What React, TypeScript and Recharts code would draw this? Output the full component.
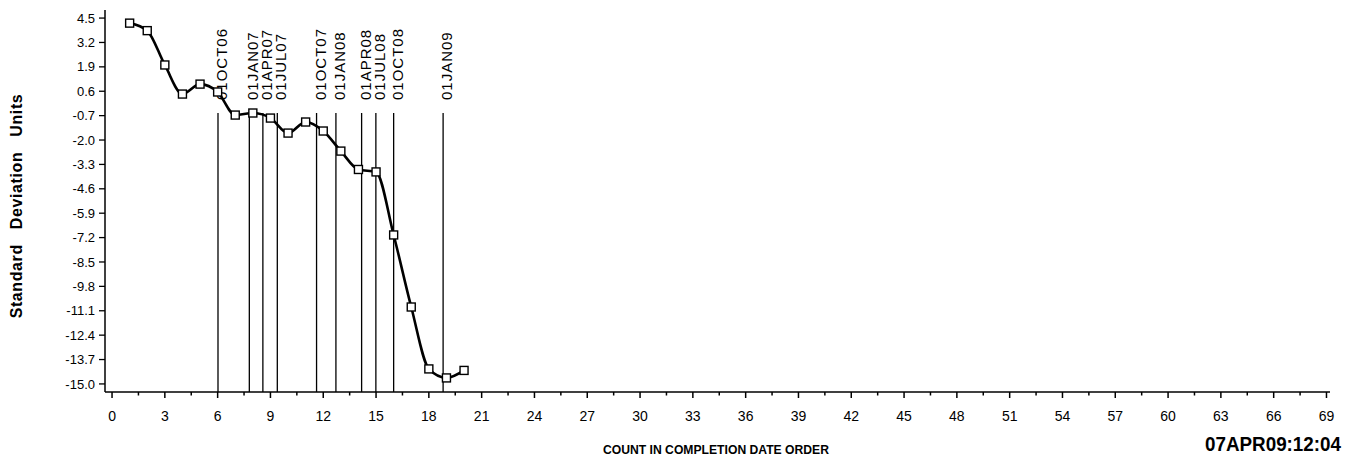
import { LineChart, Line, XAxis, YAxis, ReferenceLine, Customized } from "recharts";

const counts = [1, 2, 3, 4, 5, 6, 7, 8, 9, 10, 11, 12, 13, 14, 15, 16, 17, 18, 19, 20];
const stdUnits = [4.23, 3.83, 2.0, 0.45, 0.98, 0.56, -0.67, -0.56, -0.83, -1.63, -1.04, -1.52, -2.59, -3.57, -3.7, -7.06, -10.9, -14.2, -14.68, -14.28];

const dateMarks = ["01OCT06", "01JAN07", "01APR07", "01JUL07", "01OCT07", "01JAN08", "01APR08", "01JUL08", "01OCT08", "01JAN09"];
const dateMarkCounts = [6.02, 7.8, 8.57, 9.39, 11.62, 12.72, 14.18, 14.99, 16.0, 18.81];

const yTicks = [4.5, 3.2, 1.9, 0.6, -0.7, -2.0, -3.3, -4.6, -5.9, -7.2, -8.5, -9.8, -11.1, -12.4, -13.7, -15.0];
const xMajor = [0, 3, 6, 9, 12, 15, 18, 21, 24, 27, 30, 33, 36, 39, 42, 45, 48, 51, 54, 57, 60, 63, 66, 69];
const xMinor = [1.5, 4.5, 7.5, 10.5, 13.5, 16.5, 19.5, 22.5, 25.5, 28.5, 31.5, 34.5, 37.5, 40.5, 43.5, 46.5, 49.5, 52.5, 55.5, 58.5, 61.5, 64.5, 67.5];

const data = counts.map((c, i) => ({ count: c, sd: stdUnits[i] }));
const xTicks = [...xMajor, ...xMinor].sort((a, b) => a - b);

const FONT = "'Liberation Sans', Arial, sans-serif";

const XTick = (props: any) => {
  const { x, y, payload } = props;
  const major = xMajor.includes(payload.value);
  return (
    <g>
      <line x1={x} x2={x} y1={y} y2={y + (major ? 6 : 3.5)} stroke="#000" strokeWidth={1.5} />
      {major && (
        <text x={x} y={y + 29} textAnchor="middle" fontSize={14} fontFamily={FONT} fill="#000">
          {payload.value}
        </text>
      )}
    </g>
  );
};

const markShape = (label: string) => (p: any) => {
  const top = Math.min(p.y1, p.y2);
  const bot = Math.max(p.y1, p.y2);
  return (
    <g>
      <line x1={p.x1} x2={p.x1} y1={top + 103} y2={bot} stroke="#000" strokeWidth={1.3} />
      <text
        transform={`translate(${p.x1 + 9},${top + 90}) rotate(-90)`}
        fontSize={15}
        letterSpacing={1}
        fontFamily={FONT}
        fill="#000"
      >
        {label}
      </text>
    </g>
  );
};

const SquareDot = (props: any) => {
  const { cx, cy } = props;
  return <rect x={cx - 4} y={cy - 4} width={8} height={8} fill="#fff" stroke="#000" strokeWidth={1.4} />;
};

const Titles = () => (
  <g fontFamily={FONT} fill="#000">
    <text
      transform="translate(16,206) rotate(-90)"
      textAnchor="middle"
      dominantBaseline="central"
      fontSize={16}
      fontWeight="bold"
      letterSpacing={0.6}
      wordSpacing={10}
    >
      Standard Deviation Units
    </text>
    <text x={603} y={454} fontSize={13} fontWeight="bold" textLength={226} lengthAdjust="spacingAndGlyphs">
      COUNT IN COMPLETION DATE ORDER
    </text>
    <text x={1205} y={451} fontSize={20} fontWeight="bold" textLength={136} lengthAdjust="spacingAndGlyphs">
      07APR09:12:04
    </text>
  </g>
);

export default function App() {
  return (
    <div style={{ position: "absolute", left: 0, top: 0, background: "#fff" }}>
      <LineChart width={1355} height={460} data={data} margin={{ top: 10, right: 25, left: 0, bottom: 38 }}>
        <XAxis
          dataKey="count"
          type="number"
          domain={[-0.4, 69.2]}
          ticks={xTicks}
          interval={0}
          tick={<XTick />}
          tickLine={false}
          tickSize={0}
          tickMargin={0}
          height={30}
          axisLine={{ stroke: "#000", strokeWidth: 1.5 }}
          allowDataOverflow
        />
        <YAxis
          type="number"
          domain={[-15.43, 4.93]}
          ticks={yTicks}
          interval={0}
          width={105}
          tickFormatter={(v: number) => v.toFixed(1)}
          tick={{ fontSize: 13, fill: "#000", fontFamily: FONT }}
          tickSize={6}
          tickMargin={4}
          tickLine={{ stroke: "#000", strokeWidth: 1.3 }}
          axisLine={{ stroke: "#000", strokeWidth: 1.5 }}
          allowDataOverflow
        />
        {dateMarks.map((m, i) => (
          <ReferenceLine key={m} x={dateMarkCounts[i]} shape={markShape(m)} />
        ))}
        <Line
          type="monotone"
          dataKey="sd"
          stroke="#000"
          strokeWidth={2.6}
          dot={<SquareDot />}
          isAnimationActive={false}
        />
        <Customized component={<Titles />} />
      </LineChart>
    </div>
  );
}
